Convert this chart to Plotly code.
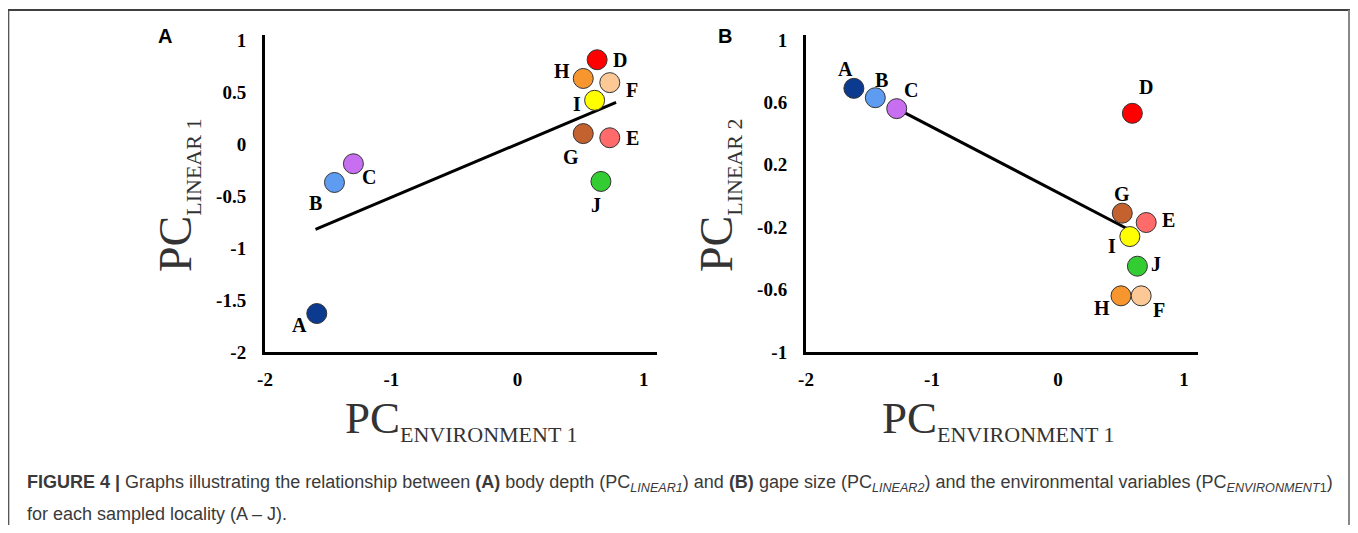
import plotly.graph_objects as go

# page is 1358x533; the html body adds an 8px margin, so the figure itself is smaller
PAGE_W, PAGE_H = 1358, 533
BODY = 8
W, H = PAGE_W - 2 * BODY, PAGE_H - 2 * BODY

# ---------------- data ----------------
sites = ["A", "B", "C", "D", "E", "F", "G", "H", "I", "J"]
site_colors = ["#0b3a8f", "#5e9cf2", "#c86ef0", "#ff0000", "#ff6b6b",
               "#fcc896", "#c4622f", "#f7962f", "#ffff00", "#33cc33"]

env1_a = [-1.59, -1.45, -1.30, 0.63, 0.73, 0.73, 0.52, 0.52, 0.61, 0.66]
linear1 = [-1.63, -0.37, -0.19, 0.81, 0.06, 0.59, 0.10, 0.63, 0.42, -0.36]
fit_a_x = [-1.60, 0.78]
fit_a_y = [-0.82, 0.40]

env1_b = [-1.62, -1.45, -1.28, 0.59, 0.70, 0.66, 0.51, 0.50, 0.57, 0.63]
linear2 = [0.69, 0.63, 0.56, 0.53, -0.17, -0.64, -0.11, -0.64, -0.26, -0.45]
fit_b_x = [-1.28, 0.55]
fit_b_y = [0.56, -0.21]

xticks = [-2, -1, 0, 1]
yticks_a = [-2, -1.5, -1, -0.5, 0, 0.5, 1]
yticks_b = [-1, -0.6, -0.2, 0.2, 0.6, 1]

# label offsets in pixels (dx, dy screen-down) -- styling
off_a = {"A": (-17, 11), "B": (-19, 21), "C": (16, 13), "D": (23, 0), "E": (23, 0),
         "F": (22, 7), "G": (-12, 23), "H": (-21, -7), "I": (-18, 4), "J": (-5, 24)}
off_b = {"A": (-8, -19), "B": (6, -18), "C": (14, -19), "D": (14, -26), "E": (22, -3),
         "F": (18, 14), "G": (0, -19), "H": (-19, 12), "I": (-18, 9), "J": (19, -2)}


def px(x):
    return (x - BODY) / W


def py(y):
    return 1 - (y - BODY) / H


fig = go.Figure()

serif = "Liberation Serif"
sans = "Liberation Sans"

# regression lines
fig.add_trace(go.Scatter(x=fit_a_x, y=fit_a_y, mode="lines", xaxis="x", yaxis="y",
                         line=dict(color="black", width=3), showlegend=False, hoverinfo="skip"))
fig.add_trace(go.Scatter(x=fit_b_x, y=fit_b_y, mode="lines", xaxis="x2", yaxis="y2",
                         line=dict(color="black", width=3), showlegend=False, hoverinfo="skip"))

# points
fig.add_trace(go.Scatter(x=env1_a, y=linear1, mode="markers", xaxis="x", yaxis="y",
                         marker=dict(size=20, color=site_colors, line=dict(color="#333333", width=1)),
                         text=sites, showlegend=False))
fig.add_trace(go.Scatter(x=env1_b, y=linear2, mode="markers", xaxis="x2", yaxis="y2",
                         marker=dict(size=20, color=site_colors, line=dict(color="#333333", width=1)),
                         text=sites, showlegend=False))

annotations = []
for s, xv, yv in zip(sites, env1_a, linear1):
    dx, dy = off_a[s]
    annotations.append(dict(x=xv, y=yv, xref="x", yref="y", text=s, showarrow=False,
                            xanchor="center", yanchor="middle", xshift=dx, yshift=-dy,
                            font=dict(family=serif, size=20, color="black", weight="bold")))
for s, xv, yv in zip(sites, env1_b, linear2):
    dx, dy = off_b[s]
    annotations.append(dict(x=xv, y=yv, xref="x2", yref="y2", text=s, showarrow=False,
                            xanchor="center", yanchor="middle", xshift=dx, yshift=-dy,
                            font=dict(family=serif, size=20, color="black", weight="bold")))

# axis titles
for cx in (461, 998):
    annotations.append(dict(x=px(cx), y=py(420), xref="paper", yref="paper", text=
                            'PC<sub><span style="font-size:22px">ENVIRONMENT 1</span></sub>',
                            showarrow=False, xanchor="center", yanchor="middle",
                            font=dict(family=serif, size=45, color="#333333")))
for cx, lab in ((178, "LINEAR 1"), (719, "LINEAR 2")):
    annotations.append(dict(x=px(cx), y=py(196), xref="paper", yref="paper", text=
                            'PC<sub><span style="font-size:22px">' + lab + '</span></sub>',
                            showarrow=False, xanchor="center", yanchor="middle", textangle=-90,
                            font=dict(family=serif, size=46, color="#333333")))

# panel letters
annotations.append(dict(x=px(165), y=py(36), xref="paper", yref="paper", text="A", showarrow=False,
                        xanchor="center", yanchor="middle",
                        font=dict(family=sans, size=20, color="black", weight="bold")))
annotations.append(dict(x=px(725), y=py(36), xref="paper", yref="paper", text="B", showarrow=False,
                        xanchor="center", yanchor="middle",
                        font=dict(family=sans, size=20, color="black", weight="bold")))

# caption
cap1 = ("<b>FIGURE 4 |</b> Graphs illustrating the relationship between <b>(A)</b> body depth "
        "(PC<sub><i>LINEAR1</i></sub>) and <b>(B)</b> gape size (PC<sub><i>LINEAR2</i></sub>) "
        "and the environmental variables (PC<sub><i>ENVIRONMENT</i>1</sub>)")
cap2 = "for each sampled locality (A \u2013 J)."
annotations.append(dict(x=px(25), y=py(483), xref="paper", yref="paper", text=cap1, showarrow=False,
                        xanchor="left", yanchor="middle",
                        font=dict(family=sans, size=18, color="#3a3a3a")))
annotations.append(dict(x=px(25), y=py(514), xref="paper", yref="paper", text=cap2, showarrow=False,
                        xanchor="left", yanchor="middle",
                        font=dict(family=sans, size=18, color="#3a3a3a")))

axis_common = dict(showgrid=False, zeroline=False, showline=True, linecolor="black", linewidth=3,
                   ticks="", tickfont=dict(family=serif, size=19, color="black", weight="bold"),
                   fixedrange=True, automargin=False)

fig.update_layout(
    width=W, height=H,
    margin=dict(l=0, r=0, t=0, b=0),
    paper_bgcolor="white", plot_bgcolor="white",
    showlegend=False,
    xaxis=dict(domain=[px(265), px(657)], range=[-2, 1.104], anchor="y",
               tickvals=xticks, ticktext=[str(v) for v in xticks], ticklabelstandoff=8, **axis_common),
    yaxis=dict(domain=[py(352), py(35)], range=[-2, 1.048], anchor="x",
               tickvals=yticks_a, ticktext=["-2", "-1.5", "-1", "-0.5", "0", "0.5", "1"],
               ticklabelstandoff=12, **axis_common),
    xaxis2=dict(domain=[px(806), px(1198)], range=[-2, 1.111], anchor="y2",
                tickvals=xticks, ticktext=[str(v) for v in xticks], ticklabelstandoff=8, **axis_common),
    yaxis2=dict(domain=[py(352), py(35)], range=[-1, 1.032], anchor="x2",
                tickvals=yticks_b, ticktext=["-1", "-0.6", "-0.2", "0.2", "0.6", "1"],
                ticklabelstandoff=12, **axis_common),
    annotations=annotations,
    shapes=[
        dict(type="line", xref="paper", yref="paper", x0=0, x1=1, y0=py(10), y1=py(10),
             line=dict(color="black", width=1.5)),
        dict(type="line", xref="paper", yref="paper", x0=px(8.7), x1=px(8.7), y0=py(10), y1=0,
             line=dict(color="#444444", width=1.2)),
        dict(type="line", xref="paper", yref="paper", x0=1 - 1 / W, x1=1 - 1 / W, y0=py(10), y1=0,
             line=dict(color="#888888", width=2)),
    ],
)

fig.write_html("out.html")
